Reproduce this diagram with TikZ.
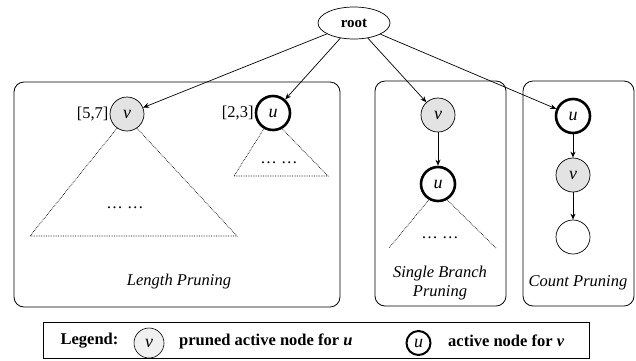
\documentclass[tikz,border=0pt]{standalone}
\usepackage{fontspec}
\setmainfont{Liberation Serif}
\usetikzlibrary{arrows.meta,shapes,positioning}

\tikzset{
  circ/.style={circle,draw,minimum size=34pt,inner sep=0pt,line width=0.7pt,
    font=\fontsize{18}{20}\selectfont\itshape},
  pruned/.style={circ,fill=gray!22},
  active/.style={circ,line width=2.6pt},
  panel/.style={draw,rounded corners=10pt,line width=0.8pt,inner sep=0pt},
  caption/.style={font=\fontsize{16.5}{19}\selectfont\itshape,align=center},
  subtree/.style={densely dotted,line width=0.7pt},
  edge/.style={-{Stealth[length=6pt,width=5pt]},line width=0.7pt}
}
\newcommand{\prunednode}{\node[pruned]}
\newcommand{\activenode}{\node[active]}

\begin{document}
\begin{tikzpicture}[x=1pt,y=-1pt,font=\fontsize{16.5}{19}\selectfont]
\useasboundingbox (0,0) rectangle (636,360);
% panels
\node[panel,minimum width=326pt,minimum height=225pt] (lenbox) at (177,194.5) {};
\node[panel,minimum width=131pt,minimum height=225pt] (sbbox) at (440.5,193.5) {};
\node[panel,minimum width=111pt,minimum height=225pt] (cntbox) at (578.5,193.5) {};
\node[caption] (lencap) at (179,282) {Length Pruning};
\node[caption] (sbcap) at (440,283) {Single Branch\\Pruning};
\node[caption] (cntcap) at (578,283) {Count Pruning};

\node[ellipse,draw,line width=0.7pt,minimum width=72pt,minimum height=32pt,inner sep=0pt,
  font=\fontsize{15}{17}\selectfont\bfseries] (root) at (354,23) {root};

% length pruning
\prunednode (lv) at (127,114) {v};
\activenode (lu) at (273,113) {u};
\node[anchor=east,inner sep=1pt] (lvlab) at (lv.west) {[5,7]};
\node[anchor=east,inner sep=1pt] (lulab) at (lu.west) {[2,3]};
\coordinate (lva) at (30,236);
\coordinate (lvb) at (237,236);
\coordinate (lua) at (234,176);
\coordinate (lub) at (328,176);
\draw[subtree] (lv.235) -- (lva) -- (lvb) -- (lv.305);
\draw[subtree] (lu.240) -- (lua) -- (lub) -- (lu.300);
\node (lvdots) at (125,208) {… …};
\node (ludots) at (279,163) {… …};

% single branch pruning
\prunednode (sv) at (438,115) {v};
\activenode (su) at (438,184) {u};
\coordinate (sua) at (389,248);
\coordinate (sub) at (496,248);
\draw[subtree] (su.240) -- (sua);
\draw[subtree] (su.300) -- (sub);
\node (sudots) at (440,238) {… …};
\draw[edge] (sv) -- (su);

% count pruning
\activenode (cu) at (573,116) {u};
\prunednode (cv) at (573,175) {v};
\node[circ] (cw) at (573,237) {};
\draw[edge] (cu) -- (cv);
\draw[edge] (cv) -- (cw);

\draw[edge] (root) -- (lv);
\draw[edge] (root) -- (lu);
\draw[edge] (root) -- (sv);
\draw[edge] (root) -- (cu);

% legend
\node[draw,line width=0.8pt,minimum width=546pt,minimum height=36pt,inner sep=0pt] (legend) at (316,340) {};
\node[font=\fontsize{16.5}{19}\selectfont\bfseries] (legtitle) at (89.5,341) {Legend:};
\node[pruned,fill=gray!12,minimum size=30pt,line width=0.6pt] (legv) at (149,343) {v};
\node[anchor=west,inner sep=1pt,font=\fontsize{16.5}{19}\selectfont\bfseries] (legvtxt) at (178,341)
  {pruned active node for \textit{u}};
\node[active,minimum size=24pt,line width=2pt] (legu) at (418.5,343) {u};
\node[anchor=west,inner sep=1pt,font=\fontsize{16.5}{19}\selectfont\bfseries] (legutxt) at (447,341)
  {active node for \textit{v}};
\end{tikzpicture}
\end{document}
